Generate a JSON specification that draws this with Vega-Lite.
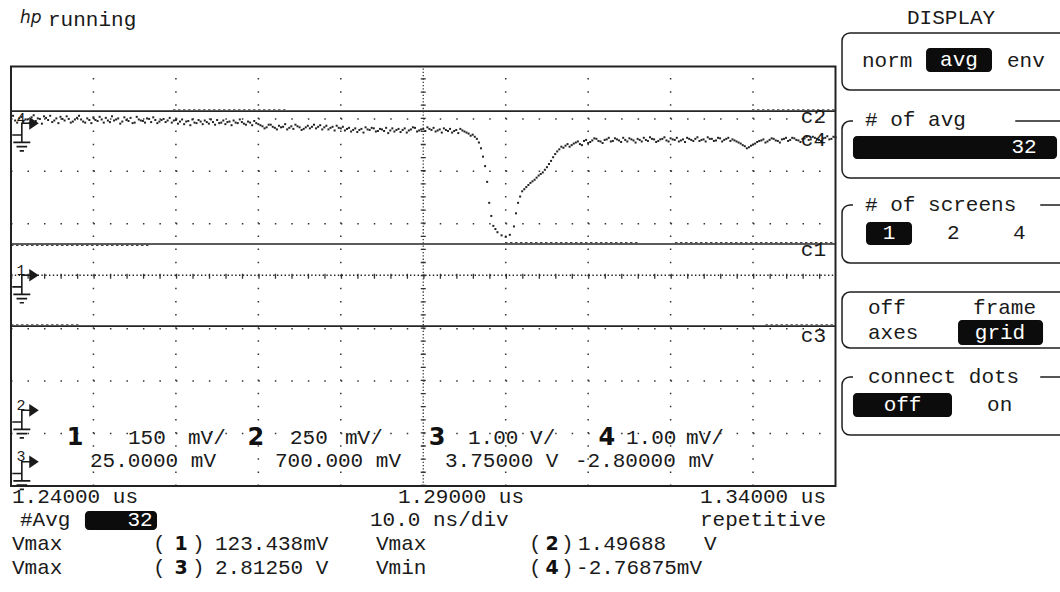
{
  "$schema": "https://vega.github.io/schema/vega-lite/v6.json",
  "width": 1060,
  "height": 592,
  "autosize": {"type": "none"},
  "padding": 0,
  "background": "white",
  "config": {"view": {"stroke": null}},
  "datasets": {
    "c4": [
      {"t":1240.0,"v":3.02},{"t":1240.5,"v":2.97},{"t":1241.0,"v":3.01},{"t":1241.5,"v":2.95},{"t":1242.0,"v":2.99},{"t":1242.5,"v":3.03},{"t":1243.0,"v":2.96},{"t":1243.5,"v":3.00},{"t":1244.0,"v":3.05},{"t":1244.5,"v":2.98},
      {"t":1245.0,"v":2.94},{"t":1245.5,"v":3.01},{"t":1246.0,"v":3.04},{"t":1246.5,"v":2.97},{"t":1247.0,"v":3.00},{"t":1247.5,"v":2.95},{"t":1248.0,"v":3.02},{"t":1248.5,"v":2.99},{"t":1249.0,"v":2.93},{"t":1249.5,"v":2.98},
      {"t":1250.0,"v":3.03},{"t":1250.5,"v":2.96},{"t":1251.0,"v":2.99},{"t":1251.5,"v":3.02},{"t":1252.0,"v":2.94},{"t":1252.5,"v":2.97},{"t":1253.0,"v":3.01},{"t":1253.5,"v":2.95},{"t":1254.0,"v":2.98},{"t":1254.5,"v":3.02},
      {"t":1255.0,"v":2.93},{"t":1255.5,"v":2.99},{"t":1256.0,"v":2.96},{"t":1256.5,"v":3.01},{"t":1257.0,"v":2.94},{"t":1257.5,"v":2.98},{"t":1258.0,"v":2.95},{"t":1258.5,"v":3.00},{"t":1259.0,"v":2.97},{"t":1259.5,"v":2.93},
      {"t":1260.0,"v":2.98},{"t":1260.5,"v":2.95},{"t":1261.0,"v":2.90},{"t":1261.5,"v":2.96},{"t":1262.0,"v":2.99},{"t":1262.5,"v":2.92},{"t":1263.0,"v":2.95},{"t":1263.5,"v":2.97},{"t":1264.0,"v":2.91},{"t":1264.5,"v":2.94},
      {"t":1265.0,"v":2.98},{"t":1265.5,"v":2.93},{"t":1266.0,"v":2.90},{"t":1266.5,"v":2.95},{"t":1267.0,"v":2.97},{"t":1267.5,"v":2.92},{"t":1268.0,"v":2.94},{"t":1268.5,"v":2.89},{"t":1269.0,"v":2.93},{"t":1269.5,"v":2.96},
      {"t":1270.0,"v":2.90},{"t":1270.5,"v":2.86},{"t":1271.0,"v":2.84},{"t":1271.5,"v":2.89},{"t":1272.0,"v":2.83},{"t":1272.5,"v":2.87},{"t":1273.0,"v":2.85},{"t":1273.5,"v":2.80},{"t":1274.0,"v":2.86},{"t":1274.5,"v":2.89},
      {"t":1275.0,"v":2.84},{"t":1275.5,"v":2.81},{"t":1276.0,"v":2.87},{"t":1276.5,"v":2.85},{"t":1277.0,"v":2.82},{"t":1277.5,"v":2.88},{"t":1278.0,"v":2.84},{"t":1278.5,"v":2.80},{"t":1279.0,"v":2.85},{"t":1279.5,"v":2.87},
      {"t":1280.0,"v":2.82},{"t":1280.5,"v":2.78},{"t":1281.0,"v":2.83},{"t":1281.5,"v":2.79},{"t":1282.0,"v":2.75},{"t":1282.5,"v":2.81},{"t":1283.0,"v":2.84},{"t":1283.5,"v":2.79},{"t":1284.0,"v":2.82},{"t":1284.5,"v":2.77},
      {"t":1285.0,"v":2.80},{"t":1285.5,"v":2.83},{"t":1286.0,"v":2.78},{"t":1286.5,"v":2.76},{"t":1287.0,"v":2.81},{"t":1287.5,"v":2.79},{"t":1288.0,"v":2.74},{"t":1288.5,"v":2.80},{"t":1289.0,"v":2.83},{"t":1289.5,"v":2.78},
      {"t":1290.0,"v":2.81},{"t":1290.5,"v":2.84},{"t":1291.0,"v":2.79},{"t":1291.5,"v":2.76},{"t":1292.0,"v":2.80},{"t":1292.5,"v":2.82},{"t":1293.0,"v":2.77},{"t":1293.5,"v":2.74},{"t":1294.0,"v":2.79},{"t":1294.5,"v":2.81},
      {"t":1295.0,"v":2.76},{"t":1295.5,"v":2.72},{"t":1296.0,"v":2.70},{"t":1296.5,"v":2.62},{"t":1297.0,"v":2.44},{"t":1297.5,"v":2.10},{"t":1298.0,"v":1.40},{"t":1298.5,"v":0.96},{"t":1299.0,"v":0.84},{"t":1299.5,"v":0.78},
      {"t":1300.0,"v":0.75},{"t":1300.5,"v":0.79},{"t":1301.0,"v":0.95},{"t":1301.5,"v":1.40},{"t":1302.0,"v":1.62},{"t":1302.5,"v":1.70},{"t":1303.0,"v":1.78},{"t":1303.5,"v":1.84},{"t":1304.0,"v":1.92},{"t":1304.5,"v":1.98},
      {"t":1305.0,"v":2.08},{"t":1305.5,"v":2.20},{"t":1306.0,"v":2.33},{"t":1306.5,"v":2.42},{"t":1307.0,"v":2.45},{"t":1307.5,"v":2.52},{"t":1308.0,"v":2.50},{"t":1308.5,"v":2.55},{"t":1309.0,"v":2.52},{"t":1309.5,"v":2.58},
      {"t":1310.0,"v":2.54},{"t":1310.5,"v":2.59},{"t":1311.0,"v":2.62},{"t":1311.5,"v":2.57},{"t":1312.0,"v":2.60},{"t":1312.5,"v":2.64},{"t":1313.0,"v":2.58},{"t":1313.5,"v":2.61},{"t":1314.0,"v":2.56},{"t":1314.5,"v":2.60},
      {"t":1315.0,"v":2.63},{"t":1315.5,"v":2.59},{"t":1316.0,"v":2.62},{"t":1316.5,"v":2.57},{"t":1317.0,"v":2.60},{"t":1317.5,"v":2.65},{"t":1318.0,"v":2.61},{"t":1318.5,"v":2.58},{"t":1319.0,"v":2.62},{"t":1319.5,"v":2.59},
      {"t":1320.0,"v":2.63},{"t":1320.5,"v":2.60},{"t":1321.0,"v":2.57},{"t":1321.5,"v":2.61},{"t":1322.0,"v":2.64},{"t":1322.5,"v":2.60},{"t":1323.0,"v":2.62},{"t":1323.5,"v":2.58},{"t":1324.0,"v":2.61},{"t":1324.5,"v":2.65},
      {"t":1325.0,"v":2.62},{"t":1325.5,"v":2.59},{"t":1326.0,"v":2.63},{"t":1326.5,"v":2.60},{"t":1327.0,"v":2.64},{"t":1327.5,"v":2.61},{"t":1328.0,"v":2.57},{"t":1328.5,"v":2.53},{"t":1329.0,"v":2.48},{"t":1329.5,"v":2.46},
      {"t":1330.0,"v":2.51},{"t":1330.5,"v":2.56},{"t":1331.0,"v":2.59},{"t":1331.5,"v":2.55},{"t":1332.0,"v":2.60},{"t":1332.5,"v":2.62},{"t":1333.0,"v":2.58},{"t":1333.5,"v":2.61},{"t":1334.0,"v":2.64},{"t":1334.5,"v":2.60},
      {"t":1335.0,"v":2.63},{"t":1335.5,"v":2.59},{"t":1336.0,"v":2.62},{"t":1336.5,"v":2.66},{"t":1337.0,"v":2.61},{"t":1337.5,"v":2.64},{"t":1338.0,"v":2.60},{"t":1338.5,"v":2.63},{"t":1339.0,"v":2.67},{"t":1339.5,"v":2.62},
      {"t":1340.0,"v":2.65},
      {"t":1240.25,"v":3.06},{"t":1240.75,"v":2.93},{"t":1241.25,"v":3.04},{"t":1241.75,"v":2.99},{"t":1242.25,"v":2.92},{"t":1242.75,"v":3.07},{"t":1243.25,"v":3.01},{"t":1243.75,"v":2.91},{"t":1244.25,"v":3.02},{"t":1244.75,"v":3.06},
      {"t":1245.25,"v":2.97},{"t":1245.75,"v":2.92},{"t":1246.25,"v":3.00},{"t":1246.75,"v":3.05},{"t":1247.25,"v":2.93},{"t":1247.75,"v":2.99},{"t":1248.25,"v":3.06},{"t":1248.75,"v":2.95},{"t":1249.25,"v":3.01},{"t":1249.75,"v":2.92},
      {"t":1250.25,"v":2.98},{"t":1250.75,"v":3.04},{"t":1251.25,"v":2.93},{"t":1251.75,"v":2.97},{"t":1252.25,"v":3.05},{"t":1252.75,"v":2.99},{"t":1253.25,"v":2.91},{"t":1253.75,"v":3.03},{"t":1254.25,"v":2.96},{"t":1254.75,"v":2.92},
      {"t":1255.25,"v":3.04},{"t":1255.75,"v":2.97},{"t":1256.25,"v":2.93},{"t":1256.75,"v":3.00},{"t":1257.25,"v":3.03},{"t":1257.75,"v":2.92},{"t":1258.25,"v":2.98},{"t":1258.75,"v":2.94},{"t":1259.25,"v":3.02},{"t":1259.75,"v":2.97},
      {"t":1260.25,"v":2.91},{"t":1260.75,"v":2.99},{"t":1261.25,"v":2.95},{"t":1261.75,"v":2.88},{"t":1262.25,"v":2.93},{"t":1262.75,"v":2.98},{"t":1263.25,"v":2.90},{"t":1263.75,"v":2.94},{"t":1264.25,"v":2.99},{"t":1264.75,"v":2.89},
      {"t":1265.25,"v":2.92},{"t":1265.75,"v":2.97},{"t":1266.25,"v":2.94},{"t":1266.75,"v":2.88},{"t":1267.25,"v":2.93},{"t":1267.75,"v":2.99},{"t":1268.25,"v":2.91},{"t":1268.75,"v":2.95},{"t":1269.25,"v":2.88},{"t":1269.75,"v":2.92},
      {"t":1270.25,"v":2.88},{"t":1270.75,"v":2.82},{"t":1271.25,"v":2.89},{"t":1271.75,"v":2.85},{"t":1272.25,"v":2.80},{"t":1272.75,"v":2.84},{"t":1273.25,"v":2.90},{"t":1273.75,"v":2.83},{"t":1274.25,"v":2.81},{"t":1274.75,"v":2.86},
      {"t":1275.25,"v":2.79},{"t":1275.75,"v":2.84},{"t":1276.25,"v":2.82},{"t":1276.75,"v":2.89},{"t":1277.25,"v":2.85},{"t":1277.75,"v":2.80},{"t":1278.25,"v":2.87},{"t":1278.75,"v":2.83},{"t":1279.25,"v":2.78},{"t":1279.75,"v":2.83},
      {"t":1280.25,"v":2.85},{"t":1280.75,"v":2.81},{"t":1281.25,"v":2.76},{"t":1281.75,"v":2.82},{"t":1282.25,"v":2.79},{"t":1282.75,"v":2.74},{"t":1283.25,"v":2.80},{"t":1283.75,"v":2.83},{"t":1284.25,"v":2.76},{"t":1284.75,"v":2.81},
      {"t":1285.25,"v":2.77},{"t":1285.75,"v":2.73},{"t":1286.25,"v":2.82},{"t":1286.75,"v":2.79},{"t":1287.25,"v":2.75},{"t":1287.75,"v":2.82},{"t":1288.25,"v":2.78},{"t":1288.75,"v":2.84},{"t":1289.25,"v":2.76},{"t":1289.75,"v":2.80},
      {"t":1290.25,"v":2.77},{"t":1290.75,"v":2.81},{"t":1291.25,"v":2.83},{"t":1291.75,"v":2.78},{"t":1292.25,"v":2.74},{"t":1292.75,"v":2.79},{"t":1293.25,"v":2.81},{"t":1293.75,"v":2.77},{"t":1294.25,"v":2.73},{"t":1294.75,"v":2.78},
      {"t":1295.25,"v":2.74},{"t":1295.75,"v":2.68},{"t":1296.25,"v":2.66},{"t":1296.75,"v":2.55},{"t":1297.25,"v":2.28},{"t":1297.75,"v":1.80},{"t":1298.25,"v":1.15},{"t":1298.75,"v":0.90},
      {"t":1301.25,"v":1.20},{"t":1301.75,"v":1.52},{"t":1302.25,"v":1.66},{"t":1302.75,"v":1.74},{"t":1303.25,"v":1.81},{"t":1303.75,"v":1.88},{"t":1304.25,"v":1.95},{"t":1304.75,"v":2.03},{"t":1305.25,"v":2.14},{"t":1305.75,"v":2.27},
      {"t":1306.25,"v":2.38},{"t":1306.75,"v":2.47},{"t":1307.25,"v":2.49},{"t":1307.75,"v":2.47},{"t":1308.25,"v":2.53},{"t":1308.75,"v":2.57},{"t":1309.25,"v":2.50},{"t":1309.75,"v":2.60},
      {"t":1310.25,"v":2.56},{"t":1310.75,"v":2.63},{"t":1311.25,"v":2.58},{"t":1311.75,"v":2.54},{"t":1312.25,"v":2.61},{"t":1312.75,"v":2.57},{"t":1313.25,"v":2.63},{"t":1313.75,"v":2.59},{"t":1314.25,"v":2.64},{"t":1314.75,"v":2.57},
      {"t":1315.25,"v":2.61},{"t":1315.75,"v":2.55},{"t":1316.25,"v":2.60},{"t":1316.75,"v":2.64},{"t":1317.25,"v":2.58},{"t":1317.75,"v":2.62},{"t":1318.25,"v":2.56},{"t":1318.75,"v":2.61},{"t":1319.25,"v":2.65},{"t":1319.75,"v":2.57},
      {"t":1320.25,"v":2.61},{"t":1320.75,"v":2.64},{"t":1321.25,"v":2.59},{"t":1321.75,"v":2.56},{"t":1322.25,"v":2.62},{"t":1322.75,"v":2.58},{"t":1323.25,"v":2.65},{"t":1323.75,"v":2.60},{"t":1324.25,"v":2.57},{"t":1324.75,"v":2.62},
      {"t":1325.25,"v":2.58},{"t":1325.75,"v":2.64},{"t":1326.25,"v":2.57},{"t":1326.75,"v":2.62},{"t":1327.25,"v":2.58},{"t":1327.75,"v":2.59},{"t":1328.25,"v":2.55},{"t":1328.75,"v":2.50},{"t":1329.25,"v":2.44},{"t":1329.75,"v":2.49},
      {"t":1330.25,"v":2.53},{"t":1330.75,"v":2.58},{"t":1331.25,"v":2.61},{"t":1331.75,"v":2.57},{"t":1332.25,"v":2.63},{"t":1332.75,"v":2.59},{"t":1333.25,"v":2.55},{"t":1333.75,"v":2.62},{"t":1334.25,"v":2.58},{"t":1334.75,"v":2.64},
      {"t":1335.25,"v":2.60},{"t":1335.75,"v":2.56},{"t":1336.25,"v":2.63},{"t":1336.75,"v":2.60},{"t":1337.25,"v":2.66},{"t":1337.75,"v":2.62},{"t":1338.25,"v":2.58},{"t":1338.75,"v":2.64},{"t":1339.25,"v":2.61},{"t":1339.75,"v":2.66}
    ],
    "flat": [
      {"trace":"c2","t":1240,"v":3.15},{"trace":"c2","t":1340,"v":3.15},
      {"trace":"c1","t":1240,"v":0.615},{"trace":"c1","t":1340,"v":0.615},
      {"trace":"c3","t":1240,"v":-0.95},{"trace":"c3","t":1340,"v":-0.95}
    ],
    "ripple": [
      {"seg":"a","t":1259.65,"v":3.175},{"seg":"a","t":1273.47,"v":3.175},
      {"seg":"b","t":1329.87,"v":3.175},{"seg":"b","t":1340,"v":3.175},
      {"seg":"c","t":1240,"v":0.59},{"seg":"c","t":1256.86,"v":0.59},
      {"seg":"d","t":1299.91,"v":0.64},{"seg":"d","t":1316.29,"v":0.64},
      {"seg":"e","t":1320.53,"v":0.64},{"seg":"e","t":1340,"v":0.64},
      {"seg":"f","t":1240,"v":-0.925},{"seg":"f","t":1248.5,"v":-0.925},
      {"seg":"g","t":1331.5,"v":-0.925},{"seg":"g","t":1340,"v":-0.925}
    ],
    "ch1": [{"t":1240,"v":0.02},{"t":1340,"v":0.02}],
    "vgrid": [
      {"t":1250,"v":-4,"v2":4},{"t":1260,"v":-4,"v2":4},{"t":1270,"v":-4,"v2":4},{"t":1280,"v":-4,"v2":4},
      {"t":1300,"v":-4,"v2":4},{"t":1310,"v":-4,"v2":4},{"t":1320,"v":-4,"v2":4},{"t":1330,"v":-4,"v2":4}
    ],
    "hgrid": [
      {"v":-3,"t":1240,"t2":1340},{"v":-2,"t":1240,"t2":1340},{"v":-1,"t":1240,"t2":1340},
      {"v":1,"t":1240,"t2":1340},{"v":2,"t":1240,"t2":1340},{"v":3,"t":1240,"t2":1340}
    ],
    "vaxis": [{"t":1290,"v":-4,"v2":4}],
    "haxis": [{"v":0,"t":1240,"t2":1340}],
    "gnd": [
      {"ch":"4","t":1241.7,"v":2.735},
      {"ch":"1","t":1241.7,"v":-0.163},
      {"ch":"2","t":1241.7,"v":-2.738},
      {"ch":"3","t":1241.7,"v":-3.72}
    ],
    "tL": [
      {"s":"running","t":1244.49,"v":4.887},
      {"s":"DISPLAY","t":1348.67,"v":4.925},
      {"s":"norm","t":1343.21,"v":4.105},
      {"s":"env","t":1360.80,"v":4.105},
      {"s":"# of avg","t":1343.58,"v":2.98},
      {"s":"# of screens","t":1343.58,"v":1.359},
      {"s":"2","t":1353.52,"v":0.825},
      {"s":"4","t":1361.53,"v":0.825},
      {"s":"off","t":1343.94,"v":-0.606},
      {"s":"frame","t":1356.68,"v":-0.606},
      {"s":"axes","t":1343.94,"v":-1.082},
      {"s":"connect dots","t":1343.94,"v":-1.921},
      {"s":"on","t":1358.38,"v":-2.455},
      {"s":"150","t":1254.19,"v":-3.085},
      {"s":"mV/","t":1261.47,"v":-3.085},
      {"s":"250","t":1273.84,"v":-3.085},
      {"s":"mV/","t":1280.51,"v":-3.085},
      {"s":"1.00","t":1295.43,"v":-3.085},
      {"s":"V/","t":1302.95,"v":-3.085},
      {"s":"1.00","t":1314.59,"v":-3.085},
      {"s":"mV/","t":1321.87,"v":-3.085},
      {"s":"25.0000 mV","t":1249.58,"v":-3.523},
      {"s":"700.000 mV","t":1272.02,"v":-3.523},
      {"s":"3.75000  V","t":1292.64,"v":-3.523},
      {"s":"-2.80000 mV","t":1308.40,"v":-3.523},
      {"s":"1.24000 us","t":1240.12,"v":-4.21},
      {"s":"1.29000 us","t":1286.94,"v":-4.21},
      {"s":"#Avg","t":1241.09,"v":-4.649},
      {"s":"10.0 ns/div","t":1283.54,"v":-4.649},
      {"s":"Vmax","t":1240.12,"v":-5.106},
      {"s":"(","t":1257.22,"v":-5.106},
      {"s":")","t":1261.95,"v":-5.106},
      {"s":"123.438mV","t":1264.74,"v":-5.106},
      {"s":"Vmax","t":1284.27,"v":-5.106},
      {"s":"(","t":1302.82,"v":-5.106},
      {"s":"(","t":1302.82,"v":-5.564},
      {"s":")","t":1306.71,"v":-5.106},
      {"s":")","t":1306.71,"v":-5.564},
      {"s":"1.49688","t":1308.77,"v":-5.106},
      {"s":"V","t":1324.05,"v":-5.106},
      {"s":"Vmax","t":1240.12,"v":-5.564},
      {"s":"(","t":1257.22,"v":-5.564},
      {"s":")","t":1261.95,"v":-5.564},
      {"s":"2.81250 V","t":1264.74,"v":-5.564},
      {"s":"Vmin","t":1284.27,"v":-5.564},
      {"s":"-2.76875mV","t":1308.53,"v":-5.564}
    ],
    "tR": [
      {"s":"1.34000 us","t":1338.85,"v":-4.21},
      {"s":"repetitive","t":1338.85,"v":-4.649},
      {"s":"c2","t":1338.85,"v":3.04},
      {"s":"c4","t":1338.85,"v":2.60},
      {"s":"c1","t":1338.85,"v":0.50},
      {"s":"c3","t":1338.85,"v":-1.14}
    ],
    "bold": [
      {"s":"1","t":1247.76,"v":-3.085,"g":"big"},
      {"s":"2","t":1269.71,"v":-3.085,"g":"big"},
      {"s":"3","t":1291.67,"v":-3.085,"g":"big"},
      {"s":"4","t":1312.28,"v":-3.085,"g":"big"},
      {"s":"1","t":1260.62,"v":-5.106,"g":"small"},
      {"s":"2","t":1305.62,"v":-5.106,"g":"small"},
      {"s":"3","t":1260.62,"v":-5.564,"g":"small"},
      {"s":"4","t":1305.62,"v":-5.564,"g":"small"}
    ],
    "inv": [
      {"s":"avg","t":1354.98,"v":4.124},
      {"s":"32","t":1362.86,"v":2.465},
      {"s":"1","t":1346.49,"v":0.825},
      {"s":"grid","t":1359.95,"v":-1.082},
      {"s":"off","t":1348.13,"v":-2.455},
      {"s":"32","t":1255.65,"v":-4.649}
    ],
    "blk": [
      {"t":1350.98,"t2":1358.98,"v":4.353,"v2":3.895},
      {"t":1342.12,"t2":1366.87,"v":2.674,"v2":2.236},
      {"t":1343.70,"t2":1349.28,"v":1.034,"v2":0.596},
      {"t":1354.86,"t2":1365.17,"v":-0.834,"v2":-1.311},
      {"t":1342.12,"t2":1354.13,"v":-2.226,"v2":-2.684},
      {"t":1248.97,"t2":1257.71,"v":-4.477,"v2":-4.839}
    ],
    "box": [
      {"t":1340.79,"t2":1368.6,"v":4.639,"v2":3.552},
      {"t":1340.79,"t2":1368.6,"v":2.96,"v2":1.873},
      {"t":1340.79,"t2":1368.6,"v":1.359,"v2":0.253},
      {"t":1340.79,"t2":1368.6,"v":-0.301,"v2":-1.368},
      {"t":1340.79,"t2":1368.6,"v":-1.921,"v2":-3.028}
    ],
    "gap": [
      {"t":1342.12,"t2":1361.80,"v":3.04,"v2":2.88},
      {"t":1342.12,"t2":1364.83,"v":1.44,"v2":1.28},
      {"t":1342.12,"t2":1364.83,"v":-1.84,"v2":-2.0}
    ]
  },
  "encoding": {
    "x": {"field": "t", "type": "quantitative", "scale": {"domain": [1238.666, 1367.228], "nice": false, "zero": false}, "axis": null},
    "y": {"field": "v", "type": "quantitative", "scale": {"domain": [-6.0215, 5.268], "nice": false, "zero": false}, "axis": null}
  },
  "layer": [
    {
      "data": {"name": "box"},
      "mark": {"type": "rect", "fill": null, "stroke": "#1e1e1e", "strokeWidth": 1.5, "cornerRadius": 8},
      "encoding": {"x2": {"field": "t2"}, "y2": {"field": "v2"}}
    },
    {
      "data": {"name": "gap"},
      "mark": {"type": "rect", "fill": "white", "stroke": null},
      "encoding": {"x2": {"field": "t2"}, "y2": {"field": "v2"}}
    },
    {
      "data": {"name": "blk"},
      "mark": {"type": "rect", "fill": "#0c0c0c", "stroke": null, "cornerRadius": 4},
      "encoding": {"x2": {"field": "t2"}, "y2": {"field": "v2"}}
    },
    {
      "data": {"name": "vgrid"},
      "mark": {"type": "rule", "color": "#333", "strokeWidth": 1.5, "strokeDash": [1.5, 11.609]},
      "encoding": {"y2": {"field": "v2"}}
    },
    {
      "data": {"name": "hgrid"},
      "mark": {"type": "rule", "color": "#333", "strokeWidth": 1.5, "strokeDash": [1.5, 14.99]},
      "encoding": {"x2": {"field": "t2"}}
    },
    {
      "data": {"name": "vaxis"},
      "mark": {"type": "rule", "color": "#333", "strokeWidth": 1.3, "strokeDash": [1.3, 1.977]},
      "encoding": {"y2": {"field": "v2"}}
    },
    {
      "data": {"name": "vaxis"},
      "mark": {"type": "rule", "color": "#333", "strokeWidth": 5, "strokeDash": [1.3, 11.809]},
      "encoding": {"y2": {"field": "v2"}}
    },
    {
      "data": {"name": "haxis"},
      "mark": {"type": "rule", "color": "#333", "strokeWidth": 5, "strokeDash": [1.3, 15.19]},
      "encoding": {"x2": {"field": "t2"}}
    },
    {
      "data": {"name": "ch1"},
      "mark": {"type": "line", "color": "#222", "strokeWidth": 1.4, "strokeDash": [1.4, 2.4]},
      "encoding": {}
    },
    {
      "data": {"name": "flat"},
      "mark": {"type": "line", "color": "#262626", "strokeWidth": 1.7},
      "encoding": {"detail": {"field": "trace"}}
    },
    {
      "data": {"name": "ripple"},
      "mark": {"type": "line", "color": "#444", "strokeWidth": 1.2, "strokeDash": [2.5, 2.5]},
      "encoding": {"detail": {"field": "seg"}}
    },
    {
      "data": {"name": "c4"},
      "mark": {"type": "point", "shape": "square", "size": 4, "filled": true, "color": "#222", "opacity": 1}
    },
    {
      "data": {"values": [{"t": 1240, "t2": 1340, "v": 4, "v2": -4}]},
      "mark": {"type": "rect", "fill": null, "stroke": "#222", "strokeWidth": 2},
      "encoding": {"x2": {"field": "t2"}, "y2": {"field": "v2"}}
    },
    {
      "data": {"name": "gnd"},
      "mark": {"type": "point", "filled": false, "stroke": "#1a1a1a", "strokeWidth": 1.6, "size": 1800, "opacity": 1,
        "shape": "M-0.6,0.1L-0.15,0.1L-0.15,-0.45L0.25,-0.45M-0.15,0.1L-0.15,0.45M-0.55,0.45L0.25,0.45M-0.4,0.65L0.1,0.65M-0.25,0.85L-0.05,0.85"}
    },
    {
      "data": {"name": "gnd"},
      "mark": {"type": "point", "filled": true, "color": "#1a1a1a", "size": 1800, "opacity": 1,
        "shape": "M0.2,-0.75L0.65,-0.45L0.2,-0.15Z"}
    },
    {
      "data": {"name": "gnd"},
      "mark": {"type": "text", "font": "Liberation Mono", "fontSize": 15, "align": "center", "baseline": "middle", "dx": -4, "dy": -15, "color": "#1a1a1a"},
      "encoding": {"text": {"field": "ch"}}
    },
    {
      "data": {"name": "tL"},
      "mark": {"type": "text", "font": "Liberation Mono", "fontSize": 21, "align": "left", "baseline": "middle", "color": "#1a1a1a"},
      "encoding": {"text": {"field": "s"}}
    },
    {
      "data": {"name": "tR"},
      "mark": {"type": "text", "font": "Liberation Mono", "fontSize": 21, "align": "right", "baseline": "middle", "color": "#1a1a1a"},
      "encoding": {"text": {"field": "s"}}
    },
    {
      "data": {"name": "bold"},
      "transform": [{"filter": "datum.g === 'big'"}],
      "mark": {"type": "text", "font": "DejaVu Sans", "fontWeight": "bold", "fontSize": 24, "align": "center", "baseline": "middle", "color": "#111"},
      "encoding": {"text": {"field": "s"}}
    },
    {
      "data": {"name": "bold"},
      "transform": [{"filter": "datum.g === 'small'"}],
      "mark": {"type": "text", "font": "DejaVu Sans", "fontWeight": "bold", "fontSize": 19, "align": "center", "baseline": "middle", "color": "#111"},
      "encoding": {"text": {"field": "s"}}
    },
    {
      "data": {"name": "inv"},
      "mark": {"type": "text", "font": "Liberation Mono", "fontSize": 21, "align": "center", "baseline": "middle", "color": "white"},
      "encoding": {"text": {"field": "s"}}
    },
    {
      "data": {"values": [{"s": "hp", "t": 1241.09, "v": 4.925}]},
      "mark": {"type": "text", "font": "DejaVu Sans", "fontStyle": "italic", "fontSize": 17, "align": "left", "baseline": "middle", "color": "#1a1a1a"},
      "encoding": {"text": {"field": "s"}}
    }
  ]
}
